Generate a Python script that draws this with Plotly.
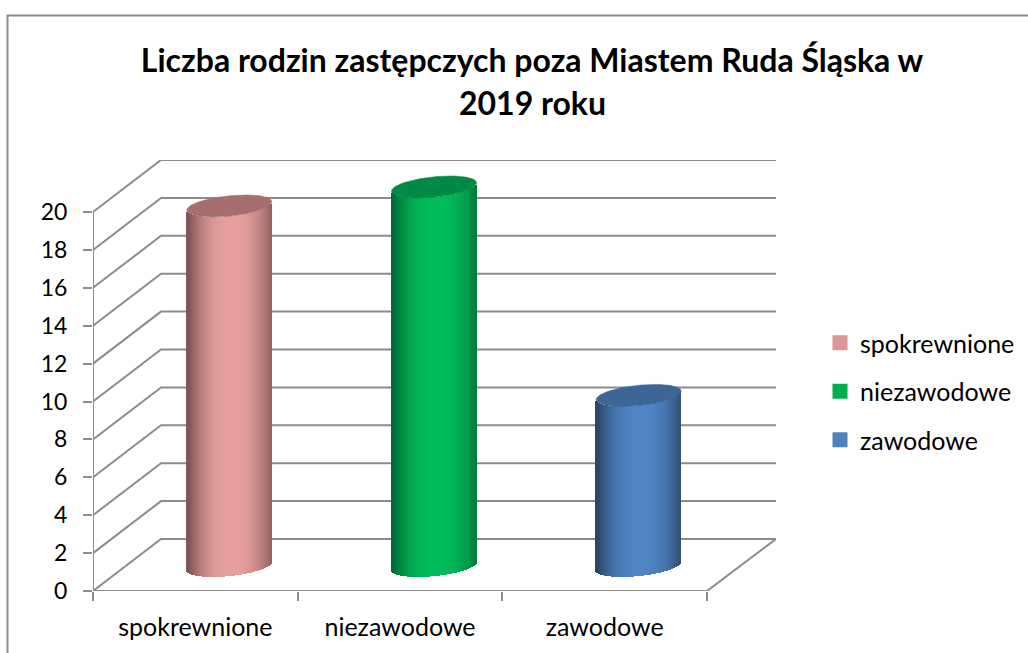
import numpy as np
import plotly.graph_objects as go

TITLE_LINE_1 = "Liczba rodzin zastępczych poza Miastem Ruda Śląska w"
TITLE_LINE_2 = "2019 roku"
categories = ["spokrewnione", "niezawodowe", "zawodowe"]
values = [19, 20, 9]
y_ticks = [0, 2, 4, 6, 8, 10, 12, 14, 16, 18, 20]
colors_center = ["#E89E9E", "#00BC5A", "#5084C4"]
colors_edge = ["#7F5555", "#006E36", "#2B4668"]
colors_top = ["#A56F6F", "#008A45", "#3D6595"]
colors_legend = ["#DC9696", "#00B050", "#4F81BD"]
GRID = "#8C8C8C"
TEXT = "#000000"

W, H = 1028, 653
L, R, T, B = 93, 776, 160, 591
PX_X = (707 - 93) / 3
PX_Y = (591 - 212) / 20
DX, DY = 68 / PX_X, 52 / PX_Y
X_MIN, X_MAX = -0.5, -0.5 + (R - L) / PX_X
Y_MAX = (B - T) / PX_Y

A, BX, BY = 39.4, 16.1, 11.0


def mix(c1, c2, f):
    a = [int(c1[i:i + 2], 16) for i in (1, 3, 5)]
    b = [int(c2[i:i + 2], 16) for i in (1, 3, 5)]
    return "rgb(" + ",".join(str(round(p + (q - p) * f)) for p, q in zip(a, b)) + ")"


def ellipse_v(u):
    aa = BX ** 2 / A ** 2 + 1
    bb = -2 * u * BX / A ** 2
    cc = u ** 2 / A ** 2 - 1
    disc = np.maximum(bb ** 2 - 4 * aa * cc, 0)
    return BY * (-bb - np.sqrt(disc)) / (2 * aa)


fig = go.Figure()

# walls and floor
gx, gy = [], []
for v in y_ticks:
    gx += [X_MIN, X_MIN + DX, X_MAX, None]
    gy += [v, v + DY, v + DY, None]
gx += [X_MIN, X_MIN, None, X_MIN, 2.5, X_MAX]
gy += [0, 20, None, 0, 0, DY]
fig.add_trace(go.Scatter(x=gx, y=gy, mode="lines", line=dict(color=GRID, width=2),
                         hoverinfo="skip", showlegend=False, cliponaxis=False))

half = np.hypot(A, BX)
us = np.arange(-half + 0.5, half, 1.0)
for i, (cat, val) in enumerate(zip(categories, values)):
    cx = i + 0.5 * DX
    base0 = 0.5 * DY - 0.05
    low = ellipse_v(us) / PX_Y
    xs = cx + us / PX_X
    fs = np.clip(1 - np.abs((us - 3) / half) ** 2.4, 0, 1)
    fig.add_trace(go.Bar(x=xs, y=[val] * len(us), base=base0 + low, width=1.6 / PX_X,
                         marker=dict(color=[mix(colors_edge[i], colors_center[i], f) for f in fs],
                                     line=dict(width=0)),
                         hoverinfo="skip", showlegend=False, xaxis="x2", yaxis="y2"))
    t = np.linspace(0, 2 * np.pi, 121)
    ex = cx + (A * np.cos(t) + BX * np.sin(t)) / PX_X
    ey = base0 + val + BY * np.sin(t) / PX_Y
    fig.add_trace(go.Scatter(x=ex, y=ey, mode="lines", fill="toself", fillcolor=colors_top[i],
                             line=dict(width=0.5, color=colors_top[i]), hoverinfo="skip",
                             showlegend=False, xaxis="x2", yaxis="y2"))

for i, cat in enumerate(categories):
    fig.add_trace(go.Scatter(x=[None], y=[None], mode="markers", name=cat, legendgroup=cat,
                             marker=dict(symbol="square", size=15, color=colors_legend[i]),
                             xaxis="x2", yaxis="y2"))

font = dict(family="Lato, Carlito, sans-serif", color=TEXT)
fig.update_layout(
    width=W, height=H, autosize=False,
    margin=dict(l=L, r=W - R, t=T, b=H - B, pad=0),
    paper_bgcolor="white", plot_bgcolor="white",
    barmode="overlay", bargap=0,
    title=dict(text=TITLE_LINE_1, x=532 / W, xanchor="center", y=1 - 61 / H, yanchor="middle",
               font=dict(size=32, family=font["family"], color=TEXT, weight="bold")),
    annotations=[dict(text=TITLE_LINE_2, xref="paper", yref="paper", x=(532 - L) / (R - L),
                      y=(B - 103) / (B - T), xanchor="center", yanchor="middle", showarrow=False,
                      font=dict(size=32, family=font["family"], color=TEXT, weight="bold"))],
    xaxis=dict(range=[X_MIN, X_MAX], tickvals=[0, 1, 2], ticktext=categories, ticklen=0,
               automargin=False,
               showgrid=False, zeroline=False, showline=False, ticks="",
               tickfont=dict(size=25, **font), ticklabelstandoff=19,
               minor=dict(tickvals=[-0.5, 0.5, 1.5, 2.5], ticks="outside", ticklen=9, tickwidth=2,
                          tickcolor=GRID, showgrid=False)),
    yaxis=dict(range=[0, Y_MAX], tickvals=y_ticks, ticks="outside", ticklen=9, tickwidth=2,
               automargin=False,
               tickcolor=GRID, showgrid=False, zeroline=False, showline=False,
               tickfont=dict(size=23, **font), ticklabelstandoff=11),
    xaxis2=dict(range=[X_MIN, X_MAX], overlaying="x", visible=False),
    yaxis2=dict(range=[0, Y_MAX], overlaying="y", visible=False),
    legend=dict(xref="container", yref="container", x=820 / W, y=1 - 320 / H, xanchor="left", yanchor="top",
                font=dict(size=25, **font), traceorder="grouped", tracegroupgap=13,
                itemwidth=30, bgcolor="rgba(0,0,0,0)"),
    shapes=[dict(type="path", xref="paper", yref="paper", layer="above",
                 path=f"M {(7.5 - L) / (R - L)} {(B - H) / (B - T)} L {(7.5 - L) / (R - L)} {(B - 15.5) / (B - T)} L {(W - L) / (R - L)} {(B - 15.5) / (B - T)}",
                 line=dict(color=GRID, width=2))],
)
fig.write_html("out.html", config=dict(displayModeBar=False),
               post_script="document.body.style.margin='0';")
